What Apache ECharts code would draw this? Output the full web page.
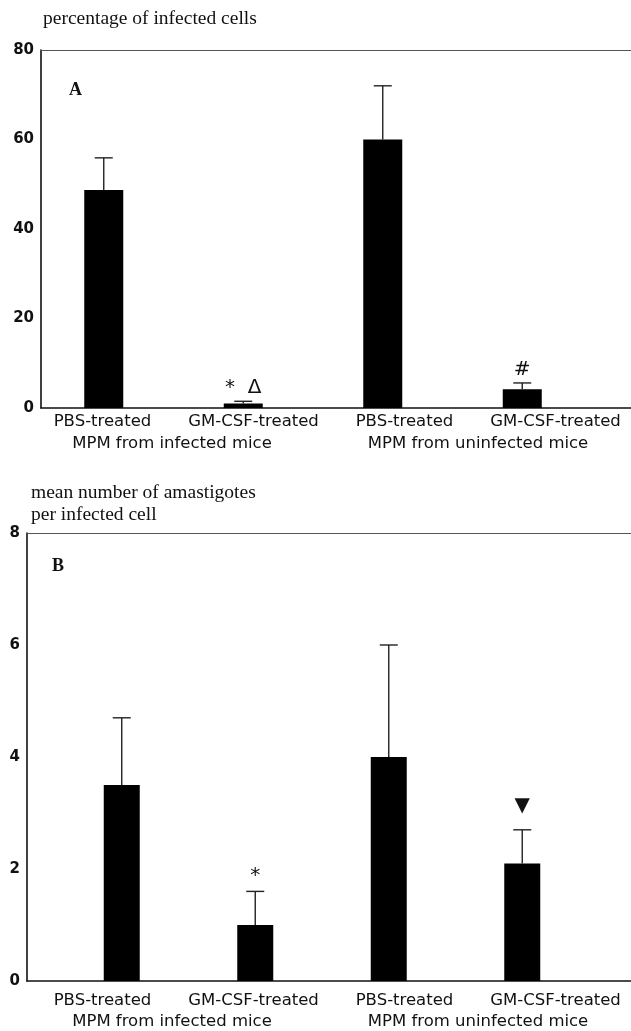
<!DOCTYPE html>
<html><head><meta charset="utf-8">
<script src="https://cdn.jsdelivr.net/npm/echarts/dist/echarts.min.js"></script>
<style>html,body{margin:0;padding:0;background:#fff}#c{width:631px;height:1031px}</style>
</head><body><div id="c"></div>
<script>
// ---- data ----
const categories = ['PBS-treated', 'GM-CSF-treated', 'PBS-treated', 'GM-CSF-treated'];
const groups = ['MPM from infected mice', 'MPM from uninfected mice'];
const pctInfected = [48.7, 1.0, 60.0, 4.2];
const pctInfectedErr = [7.2, 0.5, 12.0, 1.4];
const pctMarks = ['', '*  \u0394', '', '#'];
const amastigotes = [3.5, 1.0, 4.0, 2.1];
const amastigotesErr = [1.2, 0.6, 2.0, 0.6];
const amaMarks = ['', '*', '', '\u25BC'];
const pctTicks = [0, 20, 40, 60, 80];
const amaTicks = [0, 2, 4, 6, 8];
const titleA = 'percentage of infected cells';
const titleB = 'mean number of amastigotes\nper infected cell';

// ---- chart ----
const SANS = 'DejaVu Sans';
const SERIF = 'Liberation Serif';
const chart = echarts.init(document.getElementById('c'), null, {renderer: 'canvas'});

const grid = [], xAxis = [], yAxis = [], series = [], title = [];
const markLift = {'\u25BC': 8};

function errRender(marks, cap, gap, markFont) {
  return function (params, api) {
    const i = api.value(0), v = api.value(1), e = api.value(2);
    const p0 = api.coord([i, v]);
    const p1 = api.coord([i, v + e]);
    const st = {stroke: '#222', lineWidth: 1.4};
    const ch = [
      {type: 'line', shape: {x1: p0[0], y1: p0[1], x2: p1[0], y2: p1[1]}, style: st},
      {type: 'line', shape: {x1: p1[0] - cap, y1: p1[1], x2: p1[0] + cap, y2: p1[1]}, style: st}
    ];
    const m = marks[params.dataIndex];
    if (m) ch.push({type: 'text', x: p1[0], y: p1[1] - gap - (markLift[m] || 0),
      style: {text: m, fill: '#111', font: markFont, align: 'center', verticalAlign: 'bottom',
              textAlign: 'center', textVerticalAlign: 'bottom'}});
    return {type: 'group', children: ch};
  };
}

function panel(cfg) {
  const g0 = grid.length;
  const ticks = cfg.ticks;
  const ymax = ticks[ticks.length - 1], step = ticks[1] - ticks[0];
  grid.push({left: cfg.axisX, right: 0, top: cfg.top, height: cfg.height});
  xAxis.push({gridIndex: g0, type: 'value', position: 'bottom', min: 0, max: 1,
    axisLine: {show: true, onZero: false, lineStyle: {color: '#111', width: 1.6}},
    axisTick: {show: false}, axisLabel: {show: false}, splitLine: {show: false}});
  xAxis.push({gridIndex: g0, type: 'value', position: 'top', min: 0, max: 1,
    axisLine: {show: true, onZero: false, lineStyle: {color: '#555', width: 1.2}},
    axisTick: {show: false}, axisLabel: {show: false}, splitLine: {show: false}});
  yAxis.push({gridIndex: g0, type: 'value', min: 0, max: ymax, interval: step,
    axisLine: {show: true, lineStyle: {color: '#111', width: 1.6}},
    axisTick: {show: false}, splitLine: {show: false},
    axisLabel: {color: '#111', fontFamily: SANS, fontWeight: 'bold', fontSize: 15, margin: 7}});
  const xf = xAxis.length - 2;
  series.push({type: 'line', xAxisIndex: xf, yAxisIndex: yAxis.length - 1, data: [], silent: true});

  const g1 = grid.length;
  grid.push({left: cfg.barLeft, width: cfg.barWidthTotal, top: cfg.top, height: cfg.height});
  xAxis.push({gridIndex: g1, type: 'category', data: categories, show: false});
  yAxis.push({gridIndex: g1, type: 'value', min: 0, max: ymax, show: false});
  const xb = xAxis.length - 1, yb = yAxis.length - 1;
  series.push({type: 'bar', xAxisIndex: xb, yAxisIndex: yb, data: cfg.values,
    barWidth: cfg.barW, itemStyle: {color: '#000'}, silent: true});
  series.push({type: 'custom', xAxisIndex: xb, yAxisIndex: yb, z: 5,
    data: cfg.values.map((v, i) => [i, v, cfg.errs[i]]),
    renderItem: errRender(cfg.marks, 9, cfg.markGap, cfg.markFont), silent: true});

  const g2 = grid.length;
  grid.push({left: cfg.labLeft, width: cfg.labWidth, top: cfg.top, height: cfg.height});
  xAxis.push({gridIndex: g2, type: 'category', data: categories,
    axisLine: {show: false}, axisTick: {show: false},
    axisLabel: {color: '#111', fontFamily: SANS, fontSize: 16.5, margin: cfg.labMargin, interval: 0}});
  yAxis.push({gridIndex: g2, type: 'value', show: false});

  const g3 = grid.length;
  grid.push({left: cfg.grpLeft, width: cfg.grpWidth, top: cfg.top, height: cfg.height});
  xAxis.push({gridIndex: g3, type: 'category', data: groups,
    axisLine: {show: false}, axisTick: {show: false},
    axisLabel: {color: '#111', fontFamily: SANS, fontSize: 16.5, margin: cfg.grpMargin, interval: 0}});
  yAxis.push({gridIndex: g3, type: 'value', show: false});

  title.push({text: cfg.title, left: cfg.titleLeft, top: cfg.titleTop, padding: 0,
    textStyle: {fontFamily: SERIF, fontWeight: 'normal', fontSize: 19.5, color: '#111', lineHeight: 22}});
  title.push({text: cfg.letter, left: cfg.letterLeft, top: cfg.letterTop, padding: 0,
    textStyle: {fontFamily: SERIF, fontWeight: 'bold', fontSize: 18, color: '#111'}});
}

panel({title: titleA, titleLeft: 43, titleTop: 8, letter: 'A', letterLeft: 69, letterTop: 81,
  ticks: pctTicks, axisX: 41, top: 50, height: 358,
  barLeft: 34, barWidthTotal: 558, barW: 39,
  values: pctInfected, errs: pctInfectedErr, marks: pctMarks, markGap: 3, markFont: '20px ' + SANS,
  labLeft: 27, labWidth: 611, labMargin: 5,
  grpLeft: 19, grpWidth: 640, grpMargin: 27});

panel({title: titleB, titleLeft: 31, titleTop: 482, letter: 'B', letterLeft: 52, letterTop: 557,
  ticks: amaTicks, axisX: 27, top: 533, height: 448,
  barLeft: 55, barWidthTotal: 534, barW: 36,
  values: amastigotes, errs: amastigotesErr, marks: amaMarks, markGap: 6, markFont: '20px ' + SANS,
  labLeft: 27, labWidth: 611, labMargin: 11,
  grpLeft: 19, grpWidth: 636, grpMargin: 32});

chart.setOption({animation: false, backgroundColor: '#fff', title, grid, xAxis, yAxis, series});
</script>
</body></html>
